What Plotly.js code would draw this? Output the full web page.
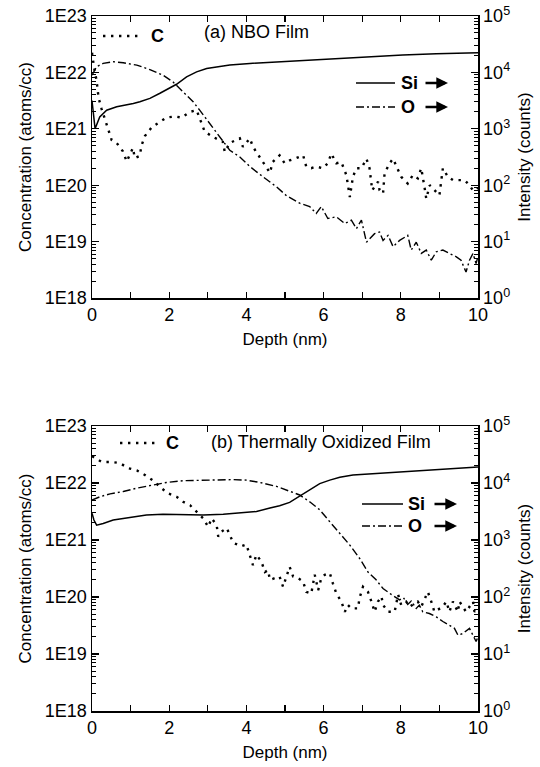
<!DOCTYPE html>
<html>
<head>
<meta charset="utf-8">
<script src="https://cdn.plot.ly/plotly-3.0.1.min.js"></script>
<style>
  html, body { margin: 0; padding: 0; background: #fff; }
  #chart { width: 540px; height: 767px; }
</style>
</head>
<body>
<div id="chart"></div>
<script>
// ---------- data ----------
// Panel (a) NBO Film
const topCDepth = [0,0.05,0.12,0.17,0.25,0.42,0.51,0.64,0.80,0.90,1.06,1.11,1.24,1.28,1.37,1.55,1.76,1.93,2.15,2.32,2.54,2.71,2.92,3.15,3.39,3.44,3.57,3.83,3.91,4.09,4.17,4.35,4.42,4.61,4.68,4.86,4.99,5.12,5.25,5.47,5.55,5.68,5.81,5.98,6.11,6.20,6.33,6.46,6.59,6.63,6.68,6.76,6.85,6.98,7.11,7.19,7.22,7.26,7.41,7.45,7.54,7.58,7.71,7.80,7.93,8.01,8.18,8.31,8.44,8.53,8.62,8.66,8.75,8.87,9.00,9.09,9.22,9.35,9.52,9.65,9.74,9.87,9.95,10.0];
const topC = [2.24e22,1.26e22,7.08e21,3.55e21,2.24e21,1.0e21,6.31e20,5.62e20,3.98e20,2.63e20,4.57e20,3.02e20,3.31e20,5.01e20,7.41e20,1.07e21,1.32e21,1.58e21,1.66e21,1.58e21,2.0e21,2.14e21,8.91e20,7.08e20,5.89e20,3.89e20,5.62e20,6.76e20,4.79e20,6.76e20,4.79e20,3.16e20,2.57e20,1.66e20,2.57e20,3.39e20,2.45e20,2.75e20,2.95e20,3.39e20,2.14e20,2.0e20,2.14e20,2.0e20,2.45e20,3.63e20,2.45e20,2.57e20,1.51e20,9.33e19,6.17e19,1.41e20,2.0e20,2.0e20,2.95e20,2.0e20,1.32e20,8.13e19,1.15e20,8.13e19,7.08e19,1.62e20,2.45e20,2.95e20,1.86e20,1.41e20,1.07e20,1.51e20,1.32e20,2.0e20,8.71e19,5.75e19,1.0e20,8.13e19,6.61e19,2.0e20,1.41e20,1.23e20,1.23e20,1.23e20,1.07e20,8.13e19,8.13e19,8.91e19];

const topSiDepth = [0,0.04,0.08,0.2,0.38,0.64,0.9,1.07,1.24,1.5,1.76,2.02,2.19,2.45,2.71,2.97,3.23,3.57,4.09,4.61,5.12,5.47,6.33,7.19,8.05,8.92,9.86,10];
const topSi = [3162,1585,1000,1622,2138,2455,2630,2818,3020,3467,4266,5248,6166,8318,10230,11750,12590,13490,14450,15140,15490,16220,17780,19050,20420,21380,22390,22390];

const topODepth = [0,0.12,0.29,0.55,0.81,1.16,1.50,1.84,2.10,2.36,2.62,2.79,3.05,3.31,3.57,3.83,4.09,4.43,4.78,5.04,5.38,5.64,5.81,5.94,6.11,6.33,6.55,6.72,6.85,6.98,7.11,7.32,7.45,7.54,7.67,7.80,7.97,8.18,8.27,8.40,8.53,8.66,8.79,8.92,9.09,9.26,9.44,9.56,9.69,9.78,9.87,9.95,10.0];
const topO = [8913,12590,14450,15490,14790,13490,11220,8913,6761,4571,3020,2138,1259,724,417,316,214,141,93.3,65,47.9,41.7,31.6,41.7,25.7,27.5,20.9,24.0,17.0,24.0,9.77,13.8,14.8,10.5,12.9,8.13,10.5,12.9,7.08,9.77,6.17,7.08,4.68,6.61,7.08,6.17,5.37,4.68,2.88,4.68,6.17,4.07,5.5];

// Panel (b) Thermally Oxidized Film
const botCDepth = [0,0.25,0.51,0.72,0.94,1.16,1.37,1.59,1.76,1.97,2.19,2.36,2.54,2.66,2.88,3.01,3.10,3.23,3.27,3.36,3.49,3.66,3.87,4.00,4.09,4.17,4.26,4.39,4.48,4.56,4.61,4.86,4.95,5.12,5.21,5.34,5.47,5.55,5.68,5.72,5.77,5.86,5.94,6.03,6.16,6.24,6.33,6.46,6.55,6.63,6.72,6.89,6.93,7.02,7.15,7.24,7.32,7.41,7.50,7.54,7.67,7.84,7.93,8.01,8.14,8.23,8.31,8.44,8.53,8.70,8.79,8.87,9.09,9.18,9.26,9.35,9.48,9.52,9.69,9.87,9.91,10.0];
const botC = [2.95e22,2.34e22,2.34e22,2.24e22,1.82e22,1.66e22,1.38e22,1.10e22,8.51e21,6.61e21,5.75e21,4.68e21,4.07e21,3.39e21,2.40e21,1.70e21,2.40e21,1.82e21,1.15e21,1.41e21,1.62e21,8.91e20,7.76e20,8.32e20,5.50e20,3.63e20,5.50e20,4.17e20,2.75e20,2.95e20,2.0e20,2.29e20,1.51e20,3.39e20,2.29e20,2.14e20,1.86e20,1.23e20,1.15e20,1.62e20,2.45e20,1.32e20,2.14e20,2.45e20,2.63e20,1.74e20,1.15e20,8.32e19,5.50e19,7.24e19,6.31e19,6.31e19,9.55e19,1.51e20,1.23e20,8.32e19,5.50e19,8.32e19,1.02e20,7.24e19,5.50e19,5.50e19,1.10e20,7.24e19,8.32e19,6.76e19,7.24e19,8.32e19,6.76e19,1.23e20,8.32e19,5.50e19,6.76e19,8.32e19,5.50e19,8.32e19,5.50e19,8.32e19,5.50e19,8.32e19,5.50e19,6.31e19];

const botSiDepth = [0,0.05,0.12,0.29,0.55,0.81,1.07,1.41,1.84,2.36,2.88,3.40,3.83,4.26,4.61,4.86,5.12,5.38,5.64,5.90,6.16,6.42,6.76,7.45,8.31,9.18,9.87,10.0];
const botSi = [2951,2239,1820,1950,2239,2399,2570,2754,2818,2754,2754,2818,2951,3162,3631,3981,4571,5888,7586,9772,11220,12590,13800,14790,15850,17380,18620,19050];

const botODepth = [0,0.21,0.47,0.81,1.16,1.50,1.93,2.36,2.79,3.23,3.66,4.00,4.35,4.78,5.04,5.38,5.64,5.90,6.16,6.42,6.68,6.93,7.15,7.36,7.54,7.76,7.97,8.07,8.18,8.27,8.40,8.48,8.57,8.74,8.92,9.09,9.26,9.39,9.48,9.61,9.78,9.87,9.95,10.0];
const botO = [5012,5754,6457,7079,8128,8913,10230,10960,11220,11480,11480,11220,10230,8710,7586,6166,4677,3388,2089,1318,813,479,275,200,141,110,89.1,97,74,85,63,72,55.0,51.3,44.7,37.2,32.4,28.2,21.4,22.9,28.2,21.4,16.6,20.0];

// tick labels
const concTickVals = [1e18,1e19,1e20,1e21,1e22,1e23];
const concTickText = ['1E18','1E19','1E20','1E21','1E22','1E23'];
const cntTickVals = [1,10,100,1000,10000,100000];
const cntTickText = ['10<sup>0</sup>','10<sup>1</sup>','10<sup>2</sup>','10<sup>3</sup>','10<sup>4</sup>','10<sup>5</sup>'];

// ---------- styling ----------
const FONT = 'Liberation Sans, Arial, sans-serif';
const W = 540, H = 767;
const px = v => v / W;
const py = v => 1 - v / H;

function minorLog(e0, e1) {
  const out = [];
  for (let e = e0; e < e1; e++) for (let m = 2; m <= 9; m++) out.push(m * Math.pow(10, e));
  return out;
}

const xDom = [px(92), px(478)];
const topDom = [py(298), py(16)];
const botDom = [py(711), py(426)];

const cLine = {color:'#000', width:2.4, dash:'2.4px,5.6px'};
const siLine = {color:'#000', width:1.5};
const oLine = {color:'#000', width:1.4, dash:'8px,3px,2px,3px'};

const traces = [
  {x: topCDepth, y: topC, xaxis:'x', yaxis:'y', mode:'lines', line:cLine, name:'C'},
  {x: topSiDepth, y: topSi, xaxis:'x', yaxis:'y2', mode:'lines', line:siLine, name:'Si'},
  {x: topODepth, y: topO, xaxis:'x', yaxis:'y2', mode:'lines', line:oLine, name:'O'},
  {x: botCDepth, y: botC, xaxis:'x2', yaxis:'y3', mode:'lines', line:cLine, name:'C'},
  {x: botSiDepth, y: botSi, xaxis:'x2', yaxis:'y4', mode:'lines', line:siLine, name:'Si'},
  {x: botODepth, y: botO, xaxis:'x2', yaxis:'y4', mode:'lines', line:oLine, name:'O'}
];

const TICKF = {family: FONT, size: 18, color: '#000'};
const TITLEF = {family: FONT, size: 17, color: '#000'};

function xAxis(anchor) {
  return {
    domain: xDom, anchor: anchor, range: [0, 10], tick0: 0, dtick: 2,
    ticks: 'inside', ticklen: 6, tickwidth: 1.2, tickcolor: '#000',
    minor: {dtick: 1, ticks: 'inside', ticklen: 4, tickwidth: 1.2, tickcolor: '#000', showgrid: false},
    showline: true, linewidth: 1.5, linecolor: '#000', mirror: 'allticks',
    showgrid: false, zeroline: false,
    tickfont: TICKF,
    title: {text: 'Depth (nm)', font: TITLEF, standoff: 9},
    automargin: false
  };
}
function concAxis(dom, anchor) {
  return {
    domain: dom, anchor: anchor, type: 'log', range: [18, 23],
    tickmode: 'array', tickvals: concTickVals, ticktext: concTickText,
    ticks: 'inside', ticklen: 7, tickwidth: 1.2, tickcolor: '#000',
    minor: {tickmode: 'array', tickvals: minorLog(18, 23), ticks: 'inside', ticklen: 4, tickwidth: 1, tickcolor: '#000', showgrid: false},
    showline: true, linewidth: 1.5, linecolor: '#000',
    showgrid: false, zeroline: false,
    tickfont: TICKF,
    title: {text: 'Concentration (atoms/cc)', font: TITLEF, standoff: 9},
    automargin: false
  };
}
function cntAxis(over, anchor) {
  return {
    overlaying: over, anchor: anchor, side: 'right', type: 'log', range: [0, 5],
    tickmode: 'array', tickvals: cntTickVals, ticktext: cntTickText,
    ticks: 'inside', ticklen: 7, tickwidth: 1.2, tickcolor: '#000',
    minor: {tickmode: 'array', tickvals: minorLog(0, 5), ticks: 'inside', ticklen: 4, tickwidth: 1, tickcolor: '#000', showgrid: false},
    showline: true, linewidth: 1.5, linecolor: '#000',
    showgrid: false, zeroline: false,
    tickfont: TICKF,
    title: {text: 'Intensity (counts)', font: TITLEF, standoff: 9},
    automargin: false
  };
}

// legend keys drawn as line samples + labels + arrows
const legendKeys = [
  {x0: 103, x1: 138, y: 36,  line: cLine,  label: 'C',  lx: 149, arrow: null},
  {x0: 356, x1: 395, y: 83,  line: siLine, label: 'Si', lx: 399, arrow: 448},
  {x0: 356, x1: 395, y: 107, line: oLine,  label: 'O',  lx: 399, arrow: 448},
  {x0: 120, x1: 155, y: 443, line: cLine,  label: 'C',  lx: 164, arrow: null},
  {x0: 362, x1: 403, y: 504, line: siLine, label: 'Si', lx: 406, arrow: 457},
  {x0: 362, x1: 403, y: 526, line: oLine,  label: 'O',  lx: 406, arrow: 457}
];

const shapes = legendKeys.map(k => ({
  type: 'line', xref: 'paper', yref: 'paper',
  x0: px(k.x0), x1: px(k.x1), y0: py(k.y), y1: py(k.y),
  line: {color: '#000', width: k.line.width, dash: k.line.dash || 'solid'}
}));

const annotations = [
  {xref:'paper', yref:'paper', x: px(202), y: py(32), xanchor:'left', yanchor:'middle', showarrow:false,
   text:'(a) NBO Film', font:{family: FONT, size: 18, color:'#000'}},
  {xref:'paper', yref:'paper', x: px(209), y: py(442), xanchor:'left', yanchor:'middle', showarrow:false,
   text:'(b) Thermally Oxidized Film', font:{family: FONT, size: 18, color:'#000'}}
];
legendKeys.forEach(k => {
  annotations.push({xref:'paper', yref:'paper', x: px(k.lx), y: py(k.y), xanchor:'left', yanchor:'middle',
    showarrow:false, text:'<b>' + k.label + '</b>', font:{family: FONT, size: 18, color:'#000'}});
  if (k.arrow) {
    annotations.push({xref:'paper', yref:'paper', x: px(k.arrow), y: py(k.y), text:'',
      showarrow:true, arrowhead:2, arrowsize:0.9, arrowwidth:2.6, arrowcolor:'#000',
      ax: -24, ay: 0, standoff: 0});
  }
});

const layout = {
  width: W, height: H,
  margin: {l: 0, r: 0, t: 0, b: 0},
  paper_bgcolor: '#fff', plot_bgcolor: 'rgba(0,0,0,0)',
  font: {family: FONT, color: '#000'},
  showlegend: false,
  xaxis: xAxis('y'),
  yaxis: concAxis(topDom, 'x'),
  yaxis2: cntAxis('y', 'x'),
  xaxis2: xAxis('y3'),
  yaxis3: concAxis(botDom, 'x2'),
  yaxis4: cntAxis('y3', 'x2'),
  shapes: shapes,
  annotations: annotations
};

Plotly.newPlot('chart', traces, layout, {staticPlot: true, displayModeBar: false});
</script>
</body>
</html>
